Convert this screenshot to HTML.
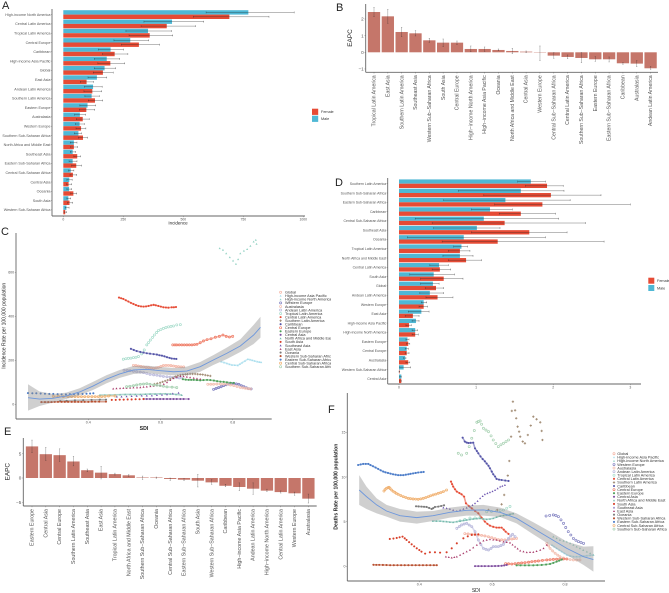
<!DOCTYPE html>
<html lang="en">
<head>
<meta charset="utf-8">
<title>Incidence, deaths and EAPC panels</title>
<style>
html,body{margin:0;padding:0;background:#fff;width:669px;height:593px;overflow:hidden}
svg{display:block;filter:blur(.35px);font-family:"Liberation Sans",sans-serif}
</style>
</head>
<body>
<svg id="fig" width="669" height="593" viewBox="0 0 669 593" xmlns="http://www.w3.org/2000/svg">
<defs><clipPath id="legend-clip"><rect x="270" y="280" width="61" height="100"/></clipPath></defs>
<rect width="669" height="593" fill="#fff"/>
<g id="panel-a"></g>
<g id="panel-b"></g>
<g id="panel-c"></g>
<g id="panel-d"></g>
<g id="panel-e"></g>
<g id="panel-f"></g>
<text x="2" y="9" font-size="11" fill="#222">A</text>
<text x="336" y="11" font-size="11" fill="#222">B</text>
<text x="1" y="235" font-size="11" fill="#222">C</text>
<text x="335" y="186" font-size="11" fill="#222">D</text>
<text x="4" y="435" font-size="11" fill="#222">E</text>
<text x="328" y="413" font-size="11" fill="#222">F</text>
</svg>
<script>
/* ---------- Panel A data ---------- */
const aCategories=["High-income North America","Central Latin America","Tropical Latin America","Central Europe","Caribbean","High-income Asia Pacific","Global","East Asia","Andean Latin America","Southern Latin America","Eastern Europe","Australasia","Western Europe","Southern Sub-Saharan Africa","North Africa and Middle East","Southeast Asia","Eastern Sub-Saharan Africa","Central Sub-Saharan Africa","Central Asia","Oceania","South Asia","Western Sub-Saharan Africa"];
const aMale=[771,453,353,279,197,181,172,140,124,118,101,69,68,63,44,39,39,31,25,24,21,13];
const aMaleLow=[595,336,261,211,146,129,129,103,88,90,69,47,50,46,29,29,24,22,15,15,15,8];
const aMaleHigh=[962,585,451,356,251,235,218,181,162,150,135,93,88,76,57,51,57,44,37,35,31,24];
const aFemale=[692,431,360,315,214,196,165,97,121,132,96,81,74,82,44,58,54,40,22,42,26,8];
const aFemaleLow=[542,324,274,242,163,144,125,71,86,104,67,54,53,63,31,44,35,28,14,31,18,3];
const aFemaleHigh=[857,551,456,401,269,256,208,126,160,164,131,108,94,101,60,72,76,56,35,56,39,14];
const aTicks=[0,250,500,750,1000];

/* ---------- Panel B data ---------- */
const bCategories=["Tropical Latin America","East Asia","Southern Latin America","Southeast Asia","Western Sub−Saharan Africa","South Asia","Central Europe","High−income North America","High−income Asia Pacific","Oceania","North Africa and Middle East","Central Asia","Western Europe","Central Sub−Saharan Africa","Central Latin America","Southern Sub−Saharan Africa","Eastern Europe","Eastern Sub−Saharan Africa","Caribbean","Australasia","Andean Latin America"];
const bValues=[2.42,2.16,1.22,1.14,.72,.58,.58,.2,.2,.14,.08,.04,-.02,-.2,-.28,-.34,-.42,-.42,-.66,-.68,-.96];
const bLow=[2.14,1.74,.94,.98,.6,.34,.46,.04,.06,.1,-.08,-.02,-.5,-.36,-.38,-.62,-.54,-.58,-.72,-.86,-1.02];
const bHigh=[2.7,2.58,1.5,1.3,.84,.8,.68,.38,.32,.2,.24,.08,.38,-.02,-.16,-.02,-.26,-.28,-.62,-.5,-.86];
const bTicks=[2,1,0,-1];

/* ---------- Panel C data: each series is a list of [SDI, rate] ---------- */
const cGlobal=[[.525,177],[.532,176],[.539,174],[.546,172],[.553,170],[.560,168],[.567,167],[.574,165],[.581,164],[.588,166],[.594,168],[.601,172],[.608,176],[.615,177],[.622,177],[.629,176],[.636,174],[.643,172],[.650,171],[.657,170],[.664,170]];
const cHighIncomeAsiaPacific=[[.768,194],[.776,190],[.784,186],[.791,182],[.798,179],[.806,178],[.814,177],[.820,183],[.826,189],[.834,197],[.842,205],[.848,203],[.854,200],[.861,197],[.868,194],[.874,192],[.879,191]];
const cHighIncomeNorthAmerica=[[.764,709],[.773,702],[.782,686],[.792,668],[.801,653],[.809,638],[.815,659],[.821,686],[.831,698],[.840,705],[.849,720],[.858,739],[.864,747],[.866,729]];
const cWesternEurope=[[.747,68],[.754,72],[.761,76],[.768,80],[.775,85],[.782,89],[.789,92],[.796,94],[.803,95],[.810,93],[.817,91],[.824,85],[.831,80],[.838,75],[.844,71],[.851,70]];
const cAustralasia=[[.731,91],[.739,91],[.747,91],[.756,92],[.766,92],[.775,92],[.784,92],[.794,88],[.803,85],[.812,81],[.821,77],[.828,75],[.835,73],[.842,71],[.849,70]];
const cAndeanLatinAmerica=[[.499,155],[.508,154],[.516,153],[.525,150],[.534,148],[.544,146],[.553,144],[.562,140],[.571,136],[.581,134],[.590,132],[.599,129],[.608,127],[.618,125],[.627,124],[.636,122],[.645,121],[.652,120],[.659,120]];
const cTropicalLatinAmerica=[[.497,205],[.504,207],[.511,209],[.518,210],[.525,212],[.532,214],[.539,217],[.548,229],[.555,247],[.562,270],[.567,281],[.572,292],[.578,304],[.583,315],[.589,326],[.594,335],[.601,340],[.608,345],[.615,349],[.622,352],[.629,354],[.636,356],[.645,361],[.655,362]];
const cCentralLatinAmerica=[[.485,485],[.491,482],[.497,479],[.504,473],[.511,467],[.518,461],[.525,456],[.532,451],[.539,447],[.546,445],[.553,444],[.560,445],[.567,447],[.574,450],[.581,452],[.587,450],[.594,447],[.601,444],[.608,441],[.615,440],[.622,439],[.631,441],[.637,441],[.643,442]];
const cSouthernLatinAmerica=[[.583,92],[.591,95],[.599,98],[.606,102],[.613,106],[.620,110],[.627,115],[.634,120],[.641,126],[.648,130],[.655,133],[.662,135],[.669,136],[.675,137],[.682,138],[.689,138],[.696,138],[.703,137],[.710,136],[.717,135],[.724,133],[.731,131],[.738,129]];
const cCaribbean=[[.518,252],[.526,247],[.534,242],[.544,238],[.553,235],[.562,232],[.571,230],[.581,228],[.590,226],[.597,223],[.604,221],[.611,218],[.618,214],[.625,211],[.631,208],[.638,207],[.644,206]];
const cCentralEurope=[[.634,270],[.640,270],[.645,270],[.652,270],[.659,270],[.666,270],[.673,270],[.680,270],[.687,270],[.694,271],[.701,273],[.710,280],[.719,288],[.729,294],[.740,298],[.752,305],[.763,309],[.773,315],[.782,309],[.791,306],[.800,309]];
const cEasternEurope=[[.662,114],[.670,112],[.678,111],[.685,111],[.692,111],[.701,110],[.710,109],[.719,110],[.729,111],[.738,110],[.748,108],[.757,105],[.766,103],[.775,102],[.784,100],[.794,98],[.803,97]];
const cCentralAsia=[[.553,24],[.562,24],[.571,24],[.581,24],[.590,24],[.599,24],[.608,24],[.618,24],[.627,24],[.636,24],[.645,24],[.655,24],[.664,24],[.678,24]];
const cNorthAfricaMiddleEast=[[.432,42],[.446,42],[.460,42],[.474,43],[.488,44],[.502,45],[.516,45],[.530,45],[.544,45],[.558,46],[.571,47],[.585,47],[.599,48],[.613,48],[.627,47],[.643,45],[.659,42]];
const cSouthAsia=[[.465,20],[.476,20],[.487,21],[.498,21],[.509,22],[.520,22],[.531,23],[.542,23],[.553,24]];
const cSoutheastAsia=[[.479,35],[.492,35],[.506,36],[.520,37],[.534,38],[.548,39],[.562,39],[.576,40],[.590,42],[.604,43],[.618,45],[.634,49],[.650,52]];
const cEastAsia=[[.469,71],[.478,72],[.488,73],[.497,74],[.506,74],[.516,75],[.525,76],[.535,76],[.544,77],[.553,79],[.562,80],[.572,82],[.581,83],[.590,85],[.599,86],[.609,92],[.618,100],[.627,110],[.636,118],[.645,124],[.655,128],[.664,127],[.673,125],[.682,122],[.692,120],[.701,117],[.710,115]];
const cOceania=[[.322,15],[.340,16],[.363,18],[.386,19],[.409,20],[.432,21],[.449,21]];
const cWesternSubSaharanAfrica=[[.270,10],[.280,10],[.289,10],[.298,10],[.307,11],[.316,11],[.326,11],[.335,11],[.344,11],[.354,11],[.363,11],[.372,11],[.381,11],[.390,11],[.400,11],[.410,12],[.419,12],[.430,12],[.449,12]];
const cEasternSubSaharanAfrica=[[.233,51],[.245,50],[.256,50],[.268,49],[.280,48],[.292,47],[.303,47],[.315,46],[.326,45],[.338,45],[.349,46],[.360,46],[.372,47],[.384,47],[.395,48],[.405,49],[.414,50]];
const cCentralSubSaharanAfrica=[[.303,36],[.317,36],[.331,35],[.344,35],[.354,35],[.363,35],[.372,35],[.381,35],[.390,35],[.400,35],[.410,35],[.419,35],[.428,35],[.437,35],[.446,36],[.456,38],[.474,38]];
const cSouthernSubSaharanAfrica=[[.506,80],[.515,82],[.525,85],[.534,88],[.544,91],[.553,92],[.562,94],[.571,91],[.581,88],[.590,87],[.599,85],[.608,82],[.618,79],[.632,78],[.645,76]];
const cSmoothSdi=[.233,.265,.302,.339,.376,.413,.450,.487,.525,.562,.599,.636,.673,.710,.747,.784,.821,.858,.877];
const cSmoothRate=[30,24,27,38,56,83,114,138,156,159,153,148,151,171,202,232,265,315,350];
const cSmoothUpper=[91,58,47,53,73,102,132,156,174,176,170,165,171,192,224,258,295,361,398];
const cSmoothLower=[-29,-8,8,24,41,65,95,120,138,142,136,132,132,148,179,206,238,274,303];
const cTicksY=[0,200,400,600];
const cTicksX=[.4,.6,.8];
const cSeriesNames=["Global","High-income Asia Pacific","High-income North America","Western Europe","Australasia","Andean Latin America","Tropical Latin America","Central Latin America","Southern Latin America","Caribbean","Central Europe","Eastern Europe","Central Asia","North Africa and Middle East","South Asia","Southeast Asia","East Asia","Oceania","Western Sub-Saharan Africa","Eastern Sub-Saharan Africa","Central Sub-Saharan Africa","Southern Sub-Saharan Africa"];
const cSeries=[cGlobal,cHighIncomeAsiaPacific,cHighIncomeNorthAmerica,cWesternEurope,cAustralasia,cAndeanLatinAmerica,cTropicalLatinAmerica,cCentralLatinAmerica,cSouthernLatinAmerica,cCaribbean,cCentralEurope,cEasternEurope,cCentralAsia,cNorthAfricaMiddleEast,cSouthAsia,cSoutheastAsia,cEastAsia,cOceania,cWesternSubSaharanAfrica,cEasternSubSaharanAfrica,cCentralSubSaharanAfrica,cSouthernSubSaharanAfrica];
const cDotted=["High-income North America","South Asia","Southeast Asia","East Asia","Eastern Sub-Saharan Africa","Tropical Latin America","Southern Latin America"];

/* ---------- Panel D data ---------- */
const dCategories=["Southern Latin America","Southern Sub-Saharan Africa","Eastern Sub-Saharan Africa","Caribbean","Central Sub-Saharan Africa","Southeast Asia","Oceania","Tropical Latin America","North Africa and Middle East","Central Latin America","South Asia","Global","Andean Latin America","Western Europe","East Asia","High-income Asia Pacific","High-income North America","Eastern Europe","Central Europe","Australasia","Western Sub-Saharan Africa","Central Asia"];
const dMale=[1.71,1.58,1.38,1.18,1.10,1.01,.84,.81,.79,.52,.45,.44,.40,.32,.29,.22,.21,.11,.10,.08,.06,.03];
const dMaleLow=[1.54,.77,.58,.94,.21,.45,.11,.71,.57,.40,.14,.28,.27,.29,.12,.17,.17,.09,.08,.06,.01,.01];
const dMaleHigh=[1.90,2.14,2.22,1.47,2.07,1.31,1.90,.89,.96,.64,.72,.52,.58,.36,.39,.26,.24,.13,.12,.09,.15,.03];
const dFemale=[1.92,1.97,1.86,1.58,1.37,1.69,1.28,.79,.87,.53,.58,.48,.50,.32,.18,.13,.21,.12,.10,.12,.005,.03];
const dFemaleLow=[1.64,1.10,1.24,1.30,.43,.94,.56,.64,.64,.43,.28,.34,.35,.26,.08,.09,.17,.10,.08,.09,0,.01];
const dFemaleHigh=[2.13,2.62,3.0,2.03,2.42,2.18,2.66,.92,1.07,.67,.83,.58,.70,.37,.26,.16,.25,.14,.13,.14,.01,.03];
const dTicks=[0,1,2,3];

/* ---------- Panel E data ---------- */
const eCategories=["Eastern Europe","Central Asia","Central Europe","Southern Latin America","Southeast Asia","East Asia","Tropical Latin America","North Africa and Middle East","Southern Sub−Saharan Africa","Oceania","Central Sub−Saharan Africa","Eastern Sub−Saharan Africa","South Asia","Western Sub−Saharan Africa","Caribbean","High−income Asia Pacific","Andean Latin America","High−income North America","Central Latin America","Western Europe","Australasia"];
const eValues=[6.5,4.9,4.7,3.4,1.6,1.1,.8,.55,.1,.1,-.2,-.35,-.55,-.9,-1.6,-1.85,-2.2,-2.6,-2.9,-3.15,-4.25];
const eLow=[5.2,3.6,3.4,2.5,1.3,-.2,.6,.35,-.3,-.05,-.5,-.55,-1.85,-1.3,-1.8,-2.6,-3.35,-2.8,-3.1,-3.55,-5.15];
const eHigh=[7.8,6.3,6.0,4.45,1.85,2.4,1.0,.7,.4,.2,0,-.15,.75,-.35,-1.3,-1.0,-1.0,-2.3,-2.65,-2.9,-3.3];
const eTicks=[5,0,-5];

/* ---------- Panel F data: each series is a list of [SDI, rate] ---------- */
const fGlobal=[[.525,3.66],[.534,3.62],[.544,3.58],[.553,3.55],[.562,3.51],[.571,3.46],[.580,3.4],[.590,3.31],[.599,3.21],[.608,3.1],[.617,2.99],[.626,2.97],[.635,2.95],[.645,3.0],[.654,3.06],[.660,3.1],[.667,3.13]];
const fHighIncomeAsiaPacific=[[.764,2.39],[.770,2.2],[.777,2.01],[.784,1.82],[.791,1.64],[.798,1.45],[.805,1.27],[.814,1.16],[.823,1.08],[.832,1.08],[.841,1.08],[.850,1.13],[.860,1.19],[.869,1.23],[.878,1.27]];
const fHighIncomeNorthAmerica=[[.768,3.32],[.777,3.13],[.786,2.95],[.796,2.85],[.805,2.76],[.814,2.57],[.823,2.39],[.832,2.2],[.841,2.01],[.850,1.82],[.860,1.64],[.869,1.45],[.878,1.27]];
const fWesternEurope=[[.748,5.63],[.758,5.7],[.768,5.75],[.775,5.68],[.782,5.56],[.789,5.2],[.796,4.81],[.802,4.35],[.809,3.88],[.816,3.5],[.823,3.13],[.830,2.92],[.837,2.76],[.844,2.66],[.851,2.57]];
const fAustralasia=[[.750,2.57],[.755,2.28],[.759,2.01],[.766,1.72],[.773,1.46],[.780,1.25],[.786,1.08],[.796,.93],[.805,.82],[.814,.76],[.823,.71],[.832,.7],[.841,.71]];
const fAndeanLatinAmerica=[[.503,4.25],[.510,4.45],[.516,4.63],[.523,4.73],[.530,4.81],[.537,4.62],[.544,4.44],[.553,3.88],[.562,2.95],[.569,2.45],[.576,2.01],[.583,1.9],[.590,1.83],[.597,2.0],[.603,2.2],[.610,2.2],[.617,2.2],[.624,2.32],[.631,2.46],[.638,2.8],[.645,3.13],[.651,3.4],[.656,3.58],[.663,3.32]];
const fTropicalLatinAmerica=[[.512,5.1],[.525,5.25],[.539,5.4],[.553,5.42],[.567,5.5],[.585,6.1],[.598,6.15],[.612,6.2],[.622,6.25],[.631,6.3],[.640,6.5],[.649,6.7]];
const fCentralLatinAmerica=[[.487,9.48],[.490,9.2],[.493,8.92],[.498,8.62],[.503,8.36],[.510,8.2],[.516,8.06],[.523,7.8],[.528,7.05],[.536,6.75],[.544,6.49],[.553,6.2],[.562,5.93],[.571,5.45],[.580,5.0],[.587,4.75],[.594,4.55],[.603,4.42],[.612,4.33],[.619,4.33],[.626,4.33],[.632,4.1],[.637,3.88],[.645,3.62]];
const fSouthernLatinAmerica=[[.590,6.31],[.614,6.31],[.626,6.94],[.633,7.99],[.643,10.15],[.647,11.79],[.652,14.51],[.654,17.39],[.657,18.43],[.663,17.46],[.666,16.57],[.670,15.63],[.674,15.07],[.677,14.51],[.684,13.96],[.690,13.77],[.698,14.7],[.706,15.75],[.713,16.75],[.722,16.46],[.732,16.12],[.736,15.15],[.738,14.14]];
const fCaribbean=[[.519,14.4],[.525,13.96],[.530,13.85],[.535,13.8],[.541,13.82],[.548,13.84],[.553,13.2],[.558,12.9],[.562,12.65],[.568,12.3],[.574,12],[.580,11.75],[.585,11.5],[.590,11.25],[.594,10.97],[.599,10.6],[.603,10.3],[.608,10.05],[.612,9.78],[.619,9.7],[.626,9.66],[.636,9.6],[.645,9.55]];
const fCentralEurope=[[.637,.3],[.645,.28],[.654,.26],[.663,.3],[.672,.34],[.681,.38],[.690,.41],[.700,.46],[.709,.52],[.718,.56],[.727,.6],[.738,.66],[.750,.71],[.759,.75],[.768,.78],[.777,.8],[.786,.82],[.796,.82],[.805,.82]];
const fEasternEurope=[[.667,.11],[.678,.11],[.690,.11],[.701,.11],[.713,.11],[.724,.13],[.736,.15],[.748,.2],[.759,.26],[.768,.38],[.777,.52],[.784,.63],[.791,.75]];
const fCentralAsia=[[.553,.02],[.562,.02],[.571,.02],[.580,.02],[.590,.02],[.599,.02],[.608,.03],[.617,.04],[.626,.06],[.633,.1],[.640,.15]];
const fNorthAfricaMiddleEast=[[.437,5.07],[.447,5.07],[.457,5.07],[.466,5.03],[.475,5],[.484,4.96],[.493,4.93],[.503,5],[.512,5.07],[.521,5.13],[.530,5.19],[.539,5.25],[.548,5.3],[.558,5.34],[.567,5.37],[.576,5.31],[.585,5.26],[.594,5.31],[.603,5.37],[.612,5.5],[.622,5.63],[.631,5.69],[.640,5.75],[.649,5.82],[.658,5.9]];
const fSouthAsia=[[.319,3.06],[.329,3.11],[.338,3.17],[.346,3.25],[.354,3.32],[.360,3.13],[.365,2.95],[.372,2.7],[.379,2.46],[.386,2.23],[.393,2.01],[.400,1.82],[.406,1.64],[.416,1.42],[.429,1.57],[.443,1.57],[.457,1.53],[.475,1.57],[.489,2.01],[.503,2.57],[.521,3.13],[.533,3.35],[.544,3.51],[.553,3.55],[.562,3.58]];
const fSoutheastAsia=[[.466,6.57],[.475,6.5],[.484,6.42],[.493,6.3],[.503,6.19],[.512,6.3],[.521,6.42],[.530,6.55],[.539,6.68],[.546,6.85],[.553,7.05],[.560,7.3],[.567,7.61],[.574,7.85],[.580,8.06],[.587,8.18],[.594,8.28],[.601,8.4],[.608,8.54],[.615,8.72],[.622,8.92],[.628,9.0],[.635,9.1]];
const fEastAsia=[[.473,1.08],[.481,1.02],[.489,.97],[.496,1.02],[.503,1.08],[.512,1.27],[.521,1.46],[.530,1.65],[.539,1.83],[.548,2.1],[.558,2.39],[.567,2.63],[.576,2.87],[.585,2.95],[.594,3.02],[.603,2.98],[.612,2.95],[.621,2.85],[.631,2.76],[.640,2.7],[.649,2.65],[.656,2.42],[.663,2.2],[.670,1.98],[.677,1.75],[.686,1.65],[.695,1.57],[.704,1.58],[.713,1.6],[.722,1.7],[.732,1.83],[.741,2.01],[.750,2.39]];
const fOceania=[[.391,6.72],[.398,6.7],[.406,6.68],[.413,6.66],[.420,6.64],[.427,6.53],[.434,6.42],[.438,6.5],[.443,6.64],[.452,6.68],[.460,6.75],[.468,6.83]];
const fWesternSubSaharanAfrica=[[.274,.17],[.282,.16],[.290,.16],[.300,.15],[.310,.14],[.320,.12],[.330,.12],[.340,.12],[.350,.12],[.360,.12],[.370,.12],[.380,.12],[.390,.12],[.400,.12],[.410,.12],[.420,.12],[.430,.12],[.440,.12],[.448,.12]];
const fEasternSubSaharanAfrica=[[.232,11.34],[.239,11.4],[.246,11.46],[.253,11.46],[.260,11.46],[.266,11.33],[.273,11.2],[.280,11.05],[.287,10.9],[.294,10.75],[.301,10.6],[.307,10.52],[.314,10.45],[.321,10.37],[.328,10.3],[.335,10.25],[.342,10.2],[.349,10.2],[.356,10.2],[.363,10.25],[.370,10.3],[.376,10.35],[.383,10.4],[.390,10.45],[.397,10.5],[.405,10.53],[.412,10.56]];
const fCentralSubSaharanAfrica=[[.303,8.43],[.306,8.6],[.310,8.73],[.314,8.8],[.317,8.84],[.320,8.7],[.324,8.54],[.328,8.4],[.333,8.28],[.337,8.16],[.342,8.06],[.349,7.92],[.356,7.8],[.363,7.7],[.370,7.61],[.376,7.57],[.383,7.54],[.390,7.52],[.397,7.5],[.404,7.55],[.411,7.61],[.418,7.7],[.425,7.8],[.431,7.9],[.438,7.99],[.445,8.08],[.452,8.17],[.459,8.26],[.466,8.36],[.475,8.54]];
const fSouthernSubSaharanAfrica=[[.507,12.65],[.516,12.46],[.530,12.65],[.537,13.4],[.544,14.33],[.551,15.2],[.558,16.12],[.562,16.2],[.567,16.27],[.571,15.9],[.576,15.45],[.583,15.25],[.590,15.07],[.597,14.6],[.603,14.14],[.610,13.75],[.617,13.4],[.624,13.6],[.631,13.77],[.638,13.95],[.645,14.14]];
const fSmoothSdi=[.235,.255,.283,.310,.347,.393,.438,.484,.530,.576,.622,.667,.713,.759,.805,.851,.878];
const fSmoothRate=[8.54,7.8,6.87,6.19,5.67,5.45,5.67,6.04,6.27,6.31,6.04,5.37,4.25,3.13,2.01,1.08,.75];
const fSmoothUpper=[10.2,8.92,7.61,6.87,6.42,6.12,6.19,6.57,6.79,6.87,6.57,5.93,4.93,3.88,2.76,2.2,2.24];
const fSmoothLower=[6.87,6.42,5.93,5.56,5,4.78,5.07,5.45,5.67,5.67,5.52,4.81,3.58,2.39,1.27,.15,-.6];
const fTicksY=[0,5,10,15];
const fTicksX=[.4,.6,.8];
const fSeriesNames=cSeriesNames;
const fSeries=[fGlobal,fHighIncomeAsiaPacific,fHighIncomeNorthAmerica,fWesternEurope,fAustralasia,fAndeanLatinAmerica,fTropicalLatinAmerica,fCentralLatinAmerica,fSouthernLatinAmerica,fCaribbean,fCentralEurope,fEasternEurope,fCentralAsia,fNorthAfricaMiddleEast,fSouthAsia,fSoutheastAsia,fEastAsia,fOceania,fWesternSubSaharanAfrica,fEasternSubSaharanAfrica,fCentralSubSaharanAfrica,fSouthernSubSaharanAfrica];
const fDotted=["Southern Latin America","Southern Sub-Saharan Africa","Southeast Asia","East Asia","South Asia","High-income North America","Western Europe","Tropical Latin America"];

/* ---------- styling ---------- */
const seriesColors=["#f4b5a5","#a4dcec","#91d1c2","#7f7fc0","#f3bfb0","#b9b9dc","#a6dccb","#e64b35","#a08a72","#5555a8","#ef7c66","#4ea05a","#8050a0","#6fb7aa","#d8402a","#6d55b0","#a83a6a","#7a7a7a","#b85030","#4a7bc8","#f0b070","#a5d0b0"];
const seriesShapes=[1,2,2,1,1,1,1,0,3,0,1,0,0,2,0,2,2,0,0,0,1,1];
const maleColor="#4fb8d5";
const femaleColor="#e64b35";
const barColor="#c5766a";
const axisColor="#666";
const tickText="#555";

const NS="http://www.w3.org/2000/svg";
function make(parent,tag,attrs,text){
  const node=document.createElementNS(NS,tag);
  for(const k in attrs){node.setAttribute(k,attrs[k]);}
  if(text!==undefined){node.textContent=text;}
  parent.appendChild(node);
  return node;
}
function linear(d0,d1,r0,r1){return v=>r0+(v-d0)*(r1-r0)/(d1-d0);}

function axisLine(g,x1,y1,x2,y2,name){
  const el=make(g,"line",{x1:x1,y1:y1,x2:x2,y2:y2,stroke:axisColor,"stroke-width":.9});
  
  
}
function tickMark(g,x1,y1,x2,y2){
  const el=make(g,"line",{x1:x1,y1:y1,x2:x2,y2:y2,stroke:axisColor,"stroke-width":.4});
  
  
}
function label(g,x,y,str,size,anchor,fill,name,rotate,weight){
  const attrs={"font-size":size,fill:fill,"text-anchor":anchor};
  if(weight){attrs["font-weight"]=weight;}
  if(rotate){attrs.transform="translate("+x+","+y+") rotate(-90)";}
  else{attrs.x=x;attrs.y=y;}
  const el=make(g,"text",attrs,str);
  
  
  return el;
}
function errorBarH(g,lowX,highX,y){
  const el=make(g,"path",{d:"M"+lowX+" "+(y-.9)+"V"+(y+.9)+"M"+lowX+" "+y+"H"+highX+"M"+highX+" "+(y-.9)+"V"+(y+.9),fill:"none",stroke:"rgba(35,35,35,.62)","stroke-width":.5});
  
  
}
function errorBarV(g,x,lowY,highY){
  const el=make(g,"path",{d:"M"+(x-.6)+" "+lowY+"H"+(x+.6)+"M"+x+" "+lowY+"V"+highY+"M"+(x-.6)+" "+highY+"H"+(x+.6),fill:"none",stroke:"rgba(35,35,35,.55)","stroke-width":.45});
  
  
}

function hBarPanel(g,categories,male,maleLow,maleHigh,female,femaleLow,femaleHigh,ticks,x,firstY,step,barH,axisX,axisTop,axisBottom,axisRight,fontSize){
  axisLine(g,axisX,axisTop,axisX,axisBottom,'y-axis');
  axisLine(g,axisX,axisBottom,axisRight,axisBottom,'x-axis');
  categories.forEach((c,i)=>{
    const cy=firstY+i*step;
    tickMark(g,axisX-1.2,cy,axisX,cy);
    label(g,axisX-1.6,cy+1.3,c,fontSize,"end",tickText,'category-label');
    const m=make(g,"rect",{x:x(0),y:cy-barH,width:Math.max(0,x(male[i])-x(0)),height:barH,fill:maleColor});
    
    
    const f=make(g,"rect",{x:x(0),y:cy,width:Math.max(0,x(female[i])-x(0)),height:barH,fill:femaleColor});
    
    
    errorBarH(g,x(maleLow[i]),x(maleHigh[i]),cy-barH/2);
    errorBarH(g,x(femaleLow[i]),x(femaleHigh[i]),cy+barH/2);
  });
  ticks.forEach(t=>{
    tickMark(g,x(t),axisBottom,x(t),axisBottom+1.2);
    label(g,x(t),axisBottom+4.6,String(t),3.4,"middle",tickText,'x-tick-label');
  });
}
function sexLegend(g,x,y1,y2,size,textX,fontSize){
  const a=make(g,"rect",{x:x,y:y1,width:size,height:size,fill:femaleColor});
  
  
  const b=make(g,"rect",{x:x,y:y2,width:size,height:size,fill:maleColor});
  
  
  label(g,textX,y1+size/2+1.4,"Female",fontSize,"start","#333",'legend-label-female');
  label(g,textX,y2+size/2+1.4,"Male",fontSize,"start","#333",'legend-label-male');
}
function vBarPanel(g,categories,values,low,high,ticks,y,firstX,step,barW,axisX,axisTop,axisBottom,axisRight,titleX,titleY,fontSize){
  axisLine(g,axisX,axisTop,axisX,axisBottom,'y-axis');
  axisLine(g,axisX,axisBottom,axisRight,axisBottom,'x-axis');
  categories.forEach((c,i)=>{
    const cx=firstX+i*step;
    const top=Math.min(y(values[i]),y(0));
    const b=make(g,"rect",{x:cx-barW/2,y:top,width:barW,height:Math.abs(y(values[i])-y(0)),fill:barColor});
    
    
    errorBarV(g,cx,y(low[i]),y(high[i]));
    tickMark(g,cx,axisBottom,cx,axisBottom+1.2);
    label(g,cx+1.6,axisBottom+3,c,fontSize,"end",tickText,'category-label',true);
  });
  ticks.forEach(t=>{
    tickMark(g,axisX-1.2,y(t),axisX,y(t));
    label(g,axisX-2,y(t)+1.6,t<0?"−"+Math.abs(t):String(t),4.6,"end",tickText,'y-tick-label');
  });
  label(g,titleX,titleY,"EAPC",6.4,"middle","#222",'y-axis-title',true);
}
function marker(g,px,py,shape,color,size,name){
  let el;
  if(shape===0){el=make(g,"circle",{cx:px,cy:py,r:size,fill:color});}
  else if(shape===1){el=make(g,"circle",{cx:px,cy:py,r:size,fill:"none",stroke:color,"stroke-width":.7});}
  else if(shape===2){el=make(g,"path",{d:"M"+px+" "+(py-size)+"L"+(px+size)+" "+(py+size*.8)+"H"+(px-size)+"Z",fill:color});}
  else{el=make(g,"path",{d:"M"+(px-size*1.1)+" "+py+"H"+(px+size*1.1)+"M"+px+" "+(py-size*1.1)+"V"+(py+size*1.1),stroke:color,"stroke-width":.9,fill:"none"});}
  
  
}
function scatterPanel(g,series,names,dotted,smoothSdi,smoothRate,smoothUpper,smoothLower,ticksX,ticksY,x,y,axisX,axisTop,axisBottom,axisRight,tickSize,markerSize){
  axisLine(g,axisX,axisTop,axisX,axisBottom,'y-axis');
  axisLine(g,axisX,axisBottom,axisRight,axisBottom,'x-axis');
  ticksY.forEach(t=>{
    tickMark(g,axisX-1.2,y(t),axisX,y(t));
    label(g,axisX-1.8,y(t)+1.3,String(t),tickSize,"end",tickText,'y-tick-label');
  });
  ticksX.forEach(t=>{
    tickMark(g,x(t),axisBottom,x(t),axisBottom+1.2);
    label(g,x(t),axisBottom+4.4,t.toFixed(1),tickSize,"middle",tickText,'x-tick-label');
  });
  series.forEach((pts,i)=>{
    const sg=make(g,"g",{});
    
    
    if(dotted.indexOf(names[i])<0){
      const tr=make(sg,"polyline",{points:pts.map(p=>x(p[0])+","+y(p[1])).join(" "),fill:"none",stroke:seriesColors[i],"stroke-width":markerSize*1.5,"stroke-opacity":.55});
      
      
    }
    pts.forEach(p=>{marker(sg,x(p[0]),y(p[1]),seriesShapes[i],seriesColors[i],markerSize,'data-point');});
  });
  let band="";
  smoothSdi.forEach((s,i)=>{band+=(i?"L":"M")+x(s)+" "+y(smoothUpper[i]);});
  for(let i=smoothSdi.length-1;i>=0;i--){band+="L"+x(smoothSdi[i])+" "+y(smoothLower[i]);}
  const b=make(g,"path",{d:band+"Z",fill:"#8c8c8c","fill-opacity":.42});
  
  
  const l=make(g,"polyline",{points:smoothSdi.map((s,i)=>x(s)+","+y(smoothRate[i])).join(" "),fill:"none",stroke:"#6d97dc","stroke-width":.9});
  
  
}
function seriesLegend(g,names,markerX,textX,firstY,step,clip){
  const lg=make(g,"g",{});
  
  
  names.forEach((n,i)=>{
    const yy=firstY+i*step;
    marker(lg,markerX,yy,seriesShapes[i],seriesColors[i],1.05,'legend-marker');
    const t=label(lg,textX,yy+1.3,n,3.8,"start","#333",'legend-entry');
    if(clip){t.setAttribute("clip-path","url(#legend-clip)");}
  });
}

/* ---------- draw panels ---------- */
const gA=document.getElementById("panel-a");
hBarPanel(gA,aCategories,aMale,aMaleLow,aMaleHigh,aFemale,aFemaleLow,aFemaleHigh,aTicks,linear(0,1000,63.3,303.3),14.6,9.3,4.4,52,9,216,305,3.7);
sexLegend(gA,312,108.7,115.7,6.2,321,3.8);
label(gA,178,224.6,"Incidence",4.5,"middle","#222",'x-axis-title');

const gB=document.getElementById("panel-b");
vBarPanel(gB,bCategories,bValues,bLow,bHigh,bTicks,linear(0,1,52.3,35.65),374,13.83,12.3,365.7,4,72.3,658,352,38,5.2);

const gC=document.getElementById("panel-c");
scatterPanel(gC,cSeries,cSeriesNames,cDotted,cSmoothSdi,cSmoothRate,cSmoothUpper,cSmoothLower,cTicksX,cTicksY,linear(.4,.8,88.3,232.7),linear(0,600,404.3,272.3),16,233,419,271.7,3.6,1.05);
label(gC,144,430,"SDI",5.2,"middle","#222",'x-axis-title',false,"bold");
label(gC,5.6,325.8,"Incidence Rate per 100,000 population",5,"middle","#222",'y-axis-title',true);
seriesLegend(gC,cSeriesNames,280.6,285,292.3,3.545,true);

const gD=document.getElementById("panel-d");
hBarPanel(gD,dCategories,dMale,dMaleLow,dMaleHigh,dFemale,dFemaleLow,dFemaleHigh,dTicks,linear(0,3,399,630.3),183.7,9.29,4.3,387.7,178,384,641,3.5);
sexLegend(gD,648.3,277.7,285,6,657,3.8);

const gE=document.getElementById("panel-e");
vBarPanel(gE,eCategories,eValues,eLow,eHigh,eTicks,linear(0,5,478,453.7),32,13.82,12.3,23.3,438,506,316.7,9.5,471.7,5.3);

const gF=document.getElementById("panel-f");
scatterPanel(gF,fSeries,fSeriesNames,fDotted,fSmoothSdi,fSmoothRate,fSmoothUpper,fSmoothLower,fTicksX,fTicksY,linear(.4,.8,419.3,565),linear(0,15,566.3,432.3),347.3,393,581,605,3.6,1.05);
label(gF,476,592,"SDI",5,"middle","#222",'x-axis-title');
label(gF,337.6,486.7,"Deaths Rate per 100,000 population",5.1,"middle","#222",'y-axis-title',true,"bold");
seriesLegend(gF,fSeriesNames,614,617.3,453.7,3.59,false);
</script>
</body>
</html>
